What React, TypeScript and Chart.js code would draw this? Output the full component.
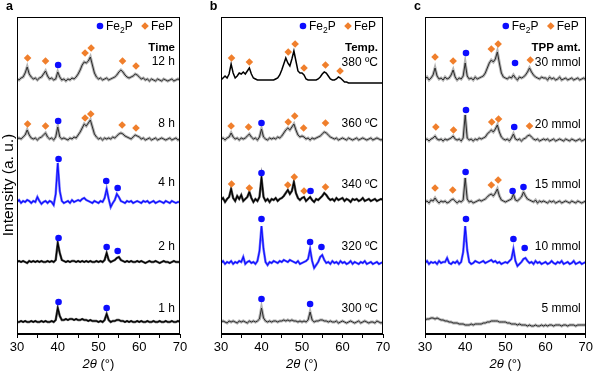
import React, { useEffect, useRef } from 'react';
import { Chart, registerables } from 'chart.js';

Chart.register(...registerables);

// ---------- data ----------
// 2θ grid: 30° to 70° in 0.5° steps (81 points); intensities in arbitrary units above each trace's offset
const THETA_START = 30;
const THETA_STEP = 0.5;

// Panel a – reaction time
const TIME_12H = [1, 0, 2, 3, 7, 13, 6, 3, 1, 2, 0, 2, 3, 6, 9, 4, 1, 2, 0, 1,
  8, 3, 0, 1, -1, 1, 0, 2, 1, 3, 6, 10, 15, 18, 17, 19, 23, 15, 7, 3,
  1, 2, 0, 1, 2, 0, 1, 2, 3, 5, 8, 10, 8, 5, 3, 2, 3, 4, 6, 5,
  3, 1, 2, 0, 1, -1, 1, 0, -1, 1, 0, -1, 1, 0, -1, 0, 1, -1, 0, 1, 0];
const TIME_8H = [0, 1, 0, 2, 4, 9, 4, 1, 0, 1, -1, 1, 2, 4, 6, 2, 0, 1, -1, 2,
  12, 2, 0, 1, 0, -1, 1, 0, 2, 1, 4, 7, 11, 15, 13, 16, 19, 12, 5, 2,
  0, 1, -1, 1, 0, 1, 0, 2, 1, 3, 5, 6, 5, 3, 2, 1, 0, 2, 4, 3,
  2, 0, 1, -1, 0, 1, -1, 0, 1, -1, 0, 1, 0, -1, 0, 1, -1, 0, 1, -1, 0];
const TIME_4H = [0, 2, -1, 1, 0, 2, 1, -1, 1, 0, 5, 1, -2, 0, 1, -1, 1, 0, -3, 8,
  39, 11, 1, -1, 0, 1, -1, 2, 0, 1, 2, 1, 3, 4, 2, 1, 0, -1, 1, 0,
  -1, 1, 0, 4, 13, 3, -5, -1, 2, 8, 5, 1, 0, -1, 1, 0, 1, -1, 0, 1,
  0, -1, 1, 0, 1, -1, 0, 1, -1, 0, 1, 0, -1, 1, 0, -1, 1, 0, -1, 0, 0];
const TIME_2H = [0, 1, 0, 1, 0, -1, 1, 0, 1, 0, 1, 0, 1, 0, 0, 1, 0, 1, 0, 2,
  19, 9, 2, 1, 0, 1, 0, 1, 1, 0, 1, 0, 1, 0, 1, 0, 1, 0, 0, 1,
  0, 1, 0, 2, 9, 2, 0, 1, 2, 4, 5, 2, 1, 0, 1, 0, 1, 0, 0, 1,
  0, 1, 0, -1, 0, 1, 0, 0, 1, 0, -1, 0, 1, 0, 0, -1, 0, 1, 0, 0, 0];
const TIME_1H = [0, 0, 1, 0, 1, 0, 0, 1, 0, 1, 0, 0, 1, 0, 1, 0, 0, 1, 0, 2,
  14, 6, 2, 2, 3, 2, 3, 3, 2, 3, 2, 2, 3, 2, 2, 1, 2, 1, 1, 1,
  0, 1, 0, 2, 8, 2, 0, 1, 1, 2, 2, 1, 1, 0, 1, 0, 1, 0, 0, 1,
  0, 1, 0, 0, 1, 0, 0, 1, 0, 0, 1, 0, 0, 1, 0, 0, 1, 0, 0, 1, 0];

// Panel b – temperature
const TEMP_380 = [3, 5, 7, 5, 9, 19, 10, 5, 7, 10, 9, 11, 9, 12, 15, 9, 5, 4, 3, 3,
  3, 3, 3, 3, 3, 3, 3, 4, 5, 8, 13, 19, 25, 20, 17, 24, 32, 22, 12, 10,
  10, 8, 4, 3, 3, 3, 3, 3, 4, 6, 9, 11, 10, 7, 4, 3, 3, 4, 6, 5,
  3, 1, 1, 0, 0, 0, 0, 0, 0, 0, 0, 0, 0, 0, 0, 0, 0, 0, 0, 0, 0];
const TEMP_360 = [0, 1, -1, 1, 2, 6, 2, 0, 1, -1, 1, 0, 1, 3, 5, 2, 0, 1, -1, 2,
  10, 2, 0, -1, 1, 0, 1, 0, 2, 1, 3, 6, 9, 11, 9, 12, 15, 9, 4, 2,
  3, 2, 0, 1, -1, 1, 0, 1, 2, 3, 5, 7, 6, 4, 2, 1, 0, 1, -1, 0,
  1, 0, -1, 1, 0, -1, 0, 1, -1, 0, 1, 0, -1, 0, 1, -1, 0, 1, 0, -1, 0];
const TEMP_340 = [0, 2, -2, 1, 3, 11, 2, -1, 4, 1, 5, -1, 1, 3, 8, 2, -2, 1, -1, 3,
  22, 3, -1, 1, -2, 1, 0, 2, -1, 1, 2, 4, 7, 10, 6, 9, 18, 7, 2, 0,
  2, 3, -1, 1, 3, 0, -2, 1, 0, 2, 4, 7, 5, 2, 0, 1, -1, 2, 0, 1,
  2, -1, 1, 0, -2, 1, 0, 1, -1, 0, 2, -1, 0, 1, -1, 0, 1, -1, 0, 1, 0];
const TEMP_320 = [0, 2, -1, 1, 0, 2, -1, 1, 0, 2, 1, 6, -1, 1, 2, 0, 1, -1, 2, 12,
  37, 14, 1, -2, 1, 0, 2, 1, 0, 2, 1, 3, 2, 1, 3, 2, 1, 0, 2, -1,
  0, 1, 2, 4, 14, 2, -5, -2, 1, 6, 8, 3, 0, 1, -1, 2, 0, 1, -1, 2,
  0, 1, -1, 0, 2, -1, 1, 0, -1, 1, 0, 2, -1, 0, 1, -1, 0, 1, -1, 0, 1];
const TEMP_300 = [0, 1, 0, -1, 1, 0, 1, 0, -1, 1, 0, 1, 0, -1, 1, 0, 1, 0, 1, 3,
  14, 4, 1, 0, 1, 0, 1, 1, 0, 1, 1, 2, 1, 2, 1, 2, 1, 1, 0, 1,
  0, 1, 0, 2, 10, 2, 0, 1, 1, 2, 2, 1, 1, 0, 1, 0, 0, 1, -1, 0,
  1, 0, -1, 0, 1, 0, -1, 0, 1, -1, 0, 1, 0, -1, 0, 0, -1, 1, 0, -1, 0];

// Panel c – TPP amount
const TPP_30 = [0, 2, -1, 1, 4, 11, 3, 0, 1, -1, 2, 0, 1, 4, 9, 2, -1, 1, 0, 3,
  16, 3, 0, 1, -1, 2, 0, 1, 2, 3, 6, 11, 16, 19, 17, 20, 27, 16, 6, 2,
  1, 0, 2, 1, 4, 1, -1, 2, 1, 2, 4, 7, 11, 7, 4, 2, 1, 0, 2, 1,
  1, -1, 2, 0, 1, -1, 0, 2, -1, 0, 1, -1, 0, 1, -1, 0, 1, -1, 0, 1, -1];
const TPP_20 = [0, 1, -1, 1, 2, 4, 1, 0, 1, -1, 1, 0, 1, 2, 4, 1, 0, 1, -1, 2,
  25, 2, 0, 1, -1, 1, 0, 2, 1, 2, 3, 6, 8, 10, 8, 11, 15, 8, 3, 1,
  0, 1, -1, 2, 6, 1, 0, 1, -1, 1, 2, 4, 5, 3, 1, 0, 1, -1, 0, 1,
  0, 1, -1, 0, 1, -1, 0, 1, 0, -1, 1, 0, -1, 1, 0, -1, 0, 1, -1, 0, 1];
const TPP_15 = [0, 1, -1, 2, 1, 4, 1, -1, 1, 0, 1, -1, 0, 2, 3, 1, -1, 1, 0, 2,
  24, 3, 0, 1, -1, 0, 1, 2, 1, 2, 3, 5, 7, 8, 6, 9, 13, 6, 2, 1,
  0, 1, 2, 3, 8, 2, 1, 3, 5, 10, 6, 3, 2, 1, 0, 2, -1, 1, 0, 1,
  0, -1, 1, 0, 1, -1, 0, 1, -1, 0, 1, 0, -1, 1, 0, -1, 1, 0, -1, 0, 1];
const TPP_10 = [0, 2, -1, 1, 0, 1, -1, 2, 0, 1, 1, 5, 0, -1, 1, 0, 2, -1, 1, 11,
  37, 13, 1, -1, 0, 2, 1, 0, 1, 2, 0, 1, 2, 3, 1, 2, 0, 1, -1, 0,
  1, 0, 2, 4, 14, 2, -3, -1, 1, 4, 5, 2, 0, 1, -1, 2, 0, 1, -1, 0,
  1, -1, 0, 2, 0, -1, 1, 0, 2, -1, 0, 1, -1, 0, 2, -1, 0, 1, -1, 0, 1];
const TPP_5 = [5, 6, 6, 7, 7, 6, 7, 6, 5, 5, 4, 4, 3, 3, 2, 2, 2, 1, 1, 1,
  0, 0, 0, 1, 0, 1, 1, 1, 1, 2, 2, 3, 3, 4, 4, 4, 4, 3, 3, 3,
  3, 2, 2, 1, 1, 1, 0, 1, 0, 0, 0, -1, 0, -1, -1, 0, -1, -1, 0, -1,
  0, -1, 0, 0, -1, 0, 0, 0, -1, 0, 0, -1, 0, 0, 0, -1, 0, 0, 0, 0, 0];

// trace offsets (stacking)
const OFFSETS_A = [254, 195, 132, 72, 12];
const OFFSETS_B = [251, 195, 134, 71, 12];
const OFFSETS_C = [255, 194, 132, 71, 9];

// reflection markers [2θ, level]
const FE2P_A = [[40.1, 269], [40.1, 213], [40.2, 175], [51.9, 153], [54.7, 146], [40.2, 96], [52.0, 87], [54.7, 83], [40.2, 32], [52.0, 26]];
const FEP_A = [[32.6, 276], [37.0, 273], [46.7, 281], [48.2, 286], [55.9, 273], [59.2, 268],
  [32.6, 210], [37.0, 208], [46.7, 216], [48.1, 220], [55.8, 209], [59.2, 206]];
const FE2P_B = [[40.0, 211], [40.0, 161], [52.1, 143], [40.0, 115], [52.0, 92], [54.8, 87], [40.0, 35], [52.0, 30]];
const FEP_B = [[32.6, 276], [37.0, 272], [46.6, 282], [48.3, 290], [50.5, 266], [55.8, 269], [59.4, 263],
  [32.5, 208], [36.8, 207], [46.6, 212], [48.2, 218], [50.4, 206], [55.8, 211],
  [32.6, 150], [37.0, 146], [46.5, 149], [48.1, 157], [50.5, 143], [55.8, 147]];
const FE2P_C = [[40.2, 281], [52.4, 271], [40.2, 224], [52.2, 207], [40.1, 162], [51.8, 143], [54.5, 147], [40.2, 115], [52.0, 95], [54.8, 86]];
const FEP_C = [[32.5, 277], [37.0, 273], [46.5, 285], [48.2, 290], [56.2, 274],
  [32.7, 207], [37.1, 204], [46.6, 212], [48.3, 215], [56.0, 208],
  [32.5, 146], [36.9, 144], [46.5, 149], [48.2, 154]];

// sample labels [text, level]
const LABELS_A: [string, number][] = [['12 h', 272], ['8 h', 210], ['4 h', 151], ['2 h', 87], ['1 h', 25]];
const LABELS_B: [string, number][] = [['380 ºC', 271], ['360 ºC', 210], ['340 ºC', 149], ['320 ºC', 87], ['300 ºC', 25]];
const LABELS_C: [string, number][] = [['30 mmol', 271], ['20 mmol', 209], ['15 mmol', 149], ['10 mmol', 87], ['5 mmol', 25]];
const HEADERS = ['Time', 'Temp.', 'TPP amt.'];
const HEADER_LEVEL = 286;
const PANEL_LETTERS = ['a', 'b', 'c'];
const X_TICKS_MIN = 30;
const X_TICKS_MAX = 70;

// ---------- styling ----------
const FONT = '"Liberation Sans", Arial, Helvetica, sans-serif';
const BLUE = '#0d0dff';
const ORANGE = '#f07f2c';
const W = 595;
const H = 372;

type Style = 'fuzzy' | 'black' | 'blue' | 'smooth';
interface PanelDef {
  letter: string;
  header: string;
  left: number;
  right: number;
  traces: { values: number[]; offset: number; style: Style }[];
  fe2p: number[][];
  fep: number[][];
  labels: [string, number][];
  yTitle: boolean;
}

const PANELS: PanelDef[] = [
  {
    letter: PANEL_LETTERS[0], header: HEADERS[0], left: 17, right: 180, yTitle: true,
    traces: [
      { values: TIME_12H, offset: OFFSETS_A[0], style: 'fuzzy' },
      { values: TIME_8H, offset: OFFSETS_A[1], style: 'fuzzy' },
      { values: TIME_4H, offset: OFFSETS_A[2], style: 'blue' },
      { values: TIME_2H, offset: OFFSETS_A[3], style: 'black' },
      { values: TIME_1H, offset: OFFSETS_A[4], style: 'black' },
    ],
    fe2p: FE2P_A, fep: FEP_A, labels: LABELS_A,
  },
  {
    letter: PANEL_LETTERS[1], header: HEADERS[1], left: 221, right: 383, yTitle: false,
    traces: [
      { values: TEMP_380, offset: OFFSETS_B[0], style: 'smooth' },
      { values: TEMP_360, offset: OFFSETS_B[1], style: 'fuzzy' },
      { values: TEMP_340, offset: OFFSETS_B[2], style: 'black' },
      { values: TEMP_320, offset: OFFSETS_B[3], style: 'blue' },
      { values: TEMP_300, offset: OFFSETS_B[4], style: 'fuzzy' },
    ],
    fe2p: FE2P_B, fep: FEP_B, labels: LABELS_B,
  },
  {
    letter: PANEL_LETTERS[2], header: HEADERS[2], left: 425, right: 587, yTitle: false,
    traces: [
      { values: TPP_30, offset: OFFSETS_C[0], style: 'fuzzy' },
      { values: TPP_20, offset: OFFSETS_C[1], style: 'fuzzy' },
      { values: TPP_15, offset: OFFSETS_C[2], style: 'fuzzy' },
      { values: TPP_10, offset: OFFSETS_C[3], style: 'blue' },
      { values: TPP_5, offset: OFFSETS_C[4], style: 'fuzzy' },
    ],
    fe2p: FE2P_C, fep: FEP_C, labels: LABELS_C,
  },
];

function buildDatasets(p: PanelDef) {
  const ds: any[] = [];
  p.traces.forEach((t) => {
    const pts = t.values.map((v, i) => ({ x: THETA_START + i * THETA_STEP, y: t.offset + v }));
    const base = { type: 'line', data: pts, pointRadius: 0, tension: 0, fill: false };
    if (t.style === 'fuzzy') {
      ds.push({ ...base, borderColor: '#b4b4b4', borderWidth: 3, order: 3 });
      ds.push({ ...base, borderColor: '#2b2b2b', borderWidth: 1, order: 2 });
    } else if (t.style === 'blue') {
      ds.push({ ...base, borderColor: '#6a6aff', borderWidth: 2.4, order: 3 });
      ds.push({ ...base, borderColor: BLUE, borderWidth: 1.1, order: 2 });
    } else if (t.style === 'black') {
      ds.push({ ...base, borderColor: '#555', borderWidth: 2.4, order: 3 });
      ds.push({ ...base, borderColor: '#000', borderWidth: 1.2, order: 2 });
    } else {
      ds.push({ ...base, borderColor: '#000', borderWidth: 1.5, order: 2 });
    }
  });
  ds.push({
    type: 'scatter', data: p.fe2p.map(([x, y]) => ({ x, y })), pointStyle: 'circle',
    pointRadius: 3.3, backgroundColor: BLUE, borderWidth: 0, showLine: false, order: 0,
  });
  ds.push({
    type: 'scatter', data: p.fep.map(([x, y]) => ({ x, y })), pointStyle: 'rectRot',
    pointRadius: 3.8, backgroundColor: ORANGE, borderWidth: 0, showLine: false, order: 0,
  });
  return ds;
}

function drawFe2P(ctx: CanvasRenderingContext2D, x: number, y: number) {
  ctx.font = `12px ${FONT}`;
  ctx.textAlign = 'left';
  ctx.textBaseline = 'alphabetic';
  const base = y + 4.3;
  ctx.fillText('Fe', x, base);
  let w = ctx.measureText('Fe').width;
  ctx.font = `8.5px ${FONT}`;
  ctx.fillText('2', x + w, base + 3);
  w += ctx.measureText('2').width;
  ctx.font = `12px ${FONT}`;
  ctx.fillText('P', x + w, base);
}

function makeOverlay(p: PanelDef) {
  return {
    id: 'overlay_' + p.letter,
    afterDraw(chart: any) {
      const { ctx, chartArea: ca, scales } = chart;
      const ys = scales.y;
      ctx.save();
      // frame
      ctx.strokeStyle = '#000';
      ctx.lineWidth = 1;
      ctx.strokeRect(Math.round(ca.left) + 0.5, Math.round(ca.top) + 0.5, Math.round(ca.right - ca.left) - 1, Math.round(ca.bottom - ca.top) - 1);
      ctx.fillStyle = '#000';
      // panel letter
      ctx.font = `bold 12.5px ${FONT}`;
      ctx.textAlign = 'center';
      ctx.textBaseline = 'middle';
      ctx.fillText(p.letter, ca.left - 7.5, 6.5);
      // legend
      const ly = ca.top + 9;
      ctx.fillStyle = BLUE;
      ctx.beginPath();
      ctx.arc(ca.right - 80, ly, 3.3, 0, Math.PI * 2);
      ctx.fill();
      ctx.fillStyle = '#000';
      drawFe2P(ctx, ca.right - 74, ly);
      const dx = ca.right - 35;
      ctx.fillStyle = ORANGE;
      ctx.beginPath();
      ctx.moveTo(dx - 3.8, ly);
      ctx.lineTo(dx, ly - 3.8);
      ctx.lineTo(dx + 3.8, ly);
      ctx.lineTo(dx, ly + 3.8);
      ctx.closePath();
      ctx.fill();
      ctx.fillStyle = '#000';
      ctx.font = `12px ${FONT}`;
      ctx.textAlign = 'left';
      ctx.textBaseline = 'alphabetic';
      ctx.fillText('FeP', dx + 6, ly + 4.3);
      // header and labels
      ctx.textAlign = 'right';
      ctx.textBaseline = 'middle';
      ctx.font = `bold 11.5px ${FONT}`;
      ctx.fillText(p.header, ca.right - 5, ys.getPixelForValue(HEADER_LEVEL));
      ctx.font = `12px ${FONT}`;
      p.labels.forEach(([t, lv]) => ctx.fillText(t, ca.right - 5, ys.getPixelForValue(lv)));
      // x title: 2θ (°)
      const cx = (ca.left + ca.right) / 2;
      ctx.textBaseline = 'alphabetic';
      ctx.textAlign = 'left';
      ctx.font = `italic 13px ${FONT}`;
      const w1 = ctx.measureText('2θ').width;
      ctx.font = `13px ${FONT}`;
      const w2 = ctx.measureText(' (°)').width;
      const sx = cx - (w1 + w2) / 2;
      ctx.font = `italic 13px ${FONT}`;
      ctx.fillText('2θ', sx, 368);
      ctx.font = `13px ${FONT}`;
      ctx.fillText(' (°)', sx + w1, 368);
      // y title
      if (p.yTitle) {
        ctx.save();
        ctx.translate(9, 185);
        ctx.rotate(-Math.PI / 2);
        ctx.textAlign = 'center';
        ctx.textBaseline = 'middle';
        ctx.font = `15.5px ${FONT}`;
        ctx.fillText('Intensity (a. u.)', 0, 0);
        ctx.restore();
      }
      ctx.restore();
    },
  };
}

function Panel({ def }: { def: PanelDef }) {
  const ref = useRef<HTMLCanvasElement | null>(null);
  useEffect(() => {
    if (!ref.current) return;
    const chart = new Chart(ref.current, {
      type: 'line',
      data: { datasets: buildDatasets(def) },
      options: {
        animation: false,
        responsive: false,
        maintainAspectRatio: false,
        layout: { padding: { left: def.left, right: W - def.right, top: 17, bottom: 0 } },
        plugins: { legend: { display: false }, tooltip: { enabled: false } },
        scales: {
          x: {
            type: 'linear',
            min: X_TICKS_MIN,
            max: X_TICKS_MAX,
            afterFit: (s: any) => { s.height = 38; },
            ticks: {
              stepSize: 5,
              autoSkip: false,
              maxRotation: 0,
              color: '#000',
              padding: 2,
              font: { size: 13, family: FONT },
              callback: (v: any) => (Number(v) % 10 === 0 ? String(v) : ''),
            },
            grid: { drawOnChartArea: false, drawTicks: true, tickLength: 4, color: '#000' },
            border: { display: true, color: '#000', width: 1 },
          },
          y: { type: 'linear', min: 0, max: 317, display: false },
        },
      } as any,
      plugins: [makeOverlay(def)],
    } as any);
    return () => chart.destroy();
  }, [def]);
  return (
    <canvas
      ref={ref}
      width={W}
      height={H}
      style={{ position: 'absolute', left: 0, top: 0, width: W, height: H }}
    />
  );
}

export default function App() {
  return (
    <div style={{ position: 'fixed', left: 0, top: 0, width: W, height: H, background: '#fff', overflow: 'hidden' }}>
      {PANELS.map((p) => (
        <Panel key={p.letter} def={p} />
      ))}
    </div>
  );
}
